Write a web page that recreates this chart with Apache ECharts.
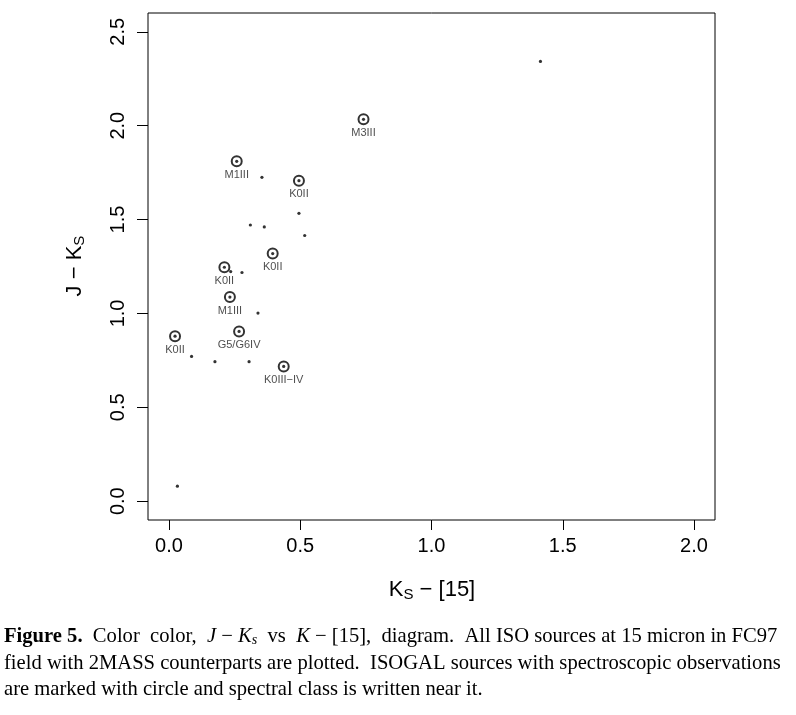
<!DOCTYPE html>
<html>
<head>
<meta charset="utf-8">
<title>Figure 5</title>
<script src="https://cdn.jsdelivr.net/npm/echarts@6.0.0/dist/echarts.min.js"></script>
<style>
html, body { margin: 0; padding: 0; background: #fff; }
#chart { width: 796px; height: 715px; }
</style>
</head>
<body>
<div id="chart"></div>
<script>
// all ISO 15 micron sources with 2MASS counterparts (no spectra)
var plainKs15 = [0.354, 0.495, 0.310, 0.363, 0.517, 0.235, 0.278, 0.339, 0.086, 0.175, 0.305, 0.032, 1.415];
var plainJKs  = [1.725, 1.533, 1.471, 1.461, 1.415, 1.223, 1.218, 1.002, 0.771, 0.743, 0.743, 0.080, 2.342];

// ISOGAL sources with spectroscopic observations
var specKs15  = [0.258, 0.495, 0.395, 0.211, 0.232, 0.267, 0.023, 0.437, 0.741];
var specJKs   = [1.810, 1.707, 1.319, 1.246, 1.087, 0.904, 0.879, 0.718, 2.034];
var specClass = ['M1III', 'K0II', 'K0II', 'K0II', 'M1III', 'G5/G6IV', 'K0II', 'K0III\u2212IV', 'M3III'];

var xTicks = [0, 0.5, 1, 1.5, 2];
var yTicks = [0, 0.5, 1, 1.5, 2, 2.5];

var plainData = plainKs15.map(function (x, i) { return [x, plainJKs[i]]; });
var specData = specKs15.map(function (x, i) { return { value: [x, specJKs[i]], name: specClass[i] }; });
var allDots = plainData.concat(specData.map(function (d) { return d.value; }));

var sans = 'Liberation Sans, Arial, sans-serif';
var serif = 'Liberation Serif, Times New Roman, serif';
var capSize = 20.6;

var myChart = echarts.init(document.getElementById('chart'));
var option = {
    backgroundColor: '#fff',
    animation: false,
    grid: {
        left: 148, right: 81, top: 13, bottom: 195,
        show: true, borderColor: '#000', borderWidth: 1
    },
    xAxis: {
        type: 'value',
        min: -0.08, max: 2.08,
        splitLine: { show: false },
        axisLine: { show: false, onZero: false },
        axisTick: { show: true, inside: false, customValues: xTicks, length: 10, lineStyle: { color: '#000' } },
        axisLabel: {
            customValues: xTicks, margin: 16, fontSize: 20, color: '#000', fontFamily: sans,
            formatter: function (v) { return v.toFixed(1); }
        }
    },
    yAxis: {
        type: 'value',
        min: -0.1, max: 2.6,
        splitLine: { show: false },
        axisLine: { show: false, onZero: false },
        axisTick: { show: true, inside: false, customValues: yTicks, length: 11, lineStyle: { color: '#000' } },
        axisLabel: {
            customValues: yTicks, margin: 20, rotate: 90, fontSize: 20, color: '#000', fontFamily: sans,
            formatter: function (v) { return v.toFixed(1); }
        }
    },
    series: [{
        type: 'scatter',
        data: specData,
        symbol: 'emptyCircle',
        symbolSize: 10,
        itemStyle: { color: '#000', borderColor: '#000', borderWidth: 0.8 },
        label: {
            show: true, position: 'bottom', distance: 2,
            formatter: '{b}', fontSize: 11, color: '#222', fontFamily: sans
        },
        z: 2
    }, {
        type: 'scatter',
        data: allDots,
        symbol: 'circle',
        symbolSize: 3.2,
        itemStyle: { color: '#000' },
        z: 3
    }],
    graphic: [{
        type: 'text', x: 432, y: 590,
        style: {
            text: '{n|K}{s|S}{n| \u2212 [15]}',
            align: 'center', verticalAlign: 'middle',
            rich: {
                n: { fontSize: 22, fontFamily: sans, fill: '#000', lineHeight: 24 },
                s: { fontSize: 15, fontFamily: sans, fill: '#000', lineHeight: 12, verticalAlign: 'bottom' }
            }
        }
    }, {
        type: 'text', x: 75, y: 266, rotation: Math.PI / 2,
        style: {
            text: '{n|J \u2212 K}{s|S}',
            align: 'center', verticalAlign: 'middle',
            rich: {
                n: { fontSize: 22, fontFamily: sans, fill: '#000', lineHeight: 24 },
                s: { fontSize: 15, fontFamily: sans, fill: '#000', lineHeight: 12, verticalAlign: 'bottom' }
            }
        }
    }, {
        type: 'text', x: 4, y: 637,
        style: {
            text: '{b|Figure 5.}  Color  color,  {i|J} \u2212 {i|K}{is|s}  vs  {i|K} \u2212 [15],  diagram.  All ISO sources at 15 micron in FC97',
            verticalAlign: 'middle', fontSize: capSize, fontFamily: serif, fill: '#000',
            rich: {
                b: { fontWeight: 'bold', fontSize: capSize, fontFamily: serif, fill: '#000' },
                i: { fontStyle: 'italic', fontSize: capSize, fontFamily: serif, fill: '#000' },
                is: { fontStyle: 'italic', fontSize: 14, fontFamily: serif, fill: '#000', verticalAlign: 'bottom' }
            }
        }
    }, {
        type: 'text', x: 4, y: 664,
        style: {
            text: 'field with 2MASS counterparts are plotted.  ISOGAL sources with spectroscopic observations',
            verticalAlign: 'middle', fontSize: capSize, fontFamily: serif, fill: '#000'
        }
    }, {
        type: 'text', x: 4, y: 690,
        style: {
            text: 'are marked with circle and spectral class is written near it.',
            verticalAlign: 'middle', fontSize: capSize, fontFamily: serif, fill: '#000'
        }
    }]
};
myChart.setOption(option);
</script>
</body>
</html>
